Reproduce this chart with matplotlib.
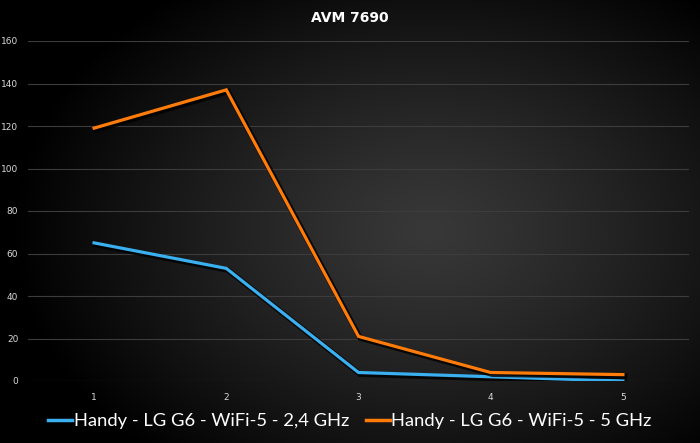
import numpy as np
import matplotlib
matplotlib.use("Agg")
import matplotlib.pyplot as plt
import matplotlib.patheffects as pe

categories = ["1", "2", "3", "4", "5"]
series_24 = [65, 53, 4, 2, 0]
series_5 = [119, 137, 21, 4, 3]
label_24 = "Handy - LG G6 - WiFi-5 - 2,4 GHz"
label_5 = "Handy - LG G6 - WiFi-5 - 5 GHz"
title = "AVM 7690"
yticks = [0, 20, 40, 60, 80, 100, 120, 140, 160]

W, H = 700, 443
fig = plt.figure(figsize=(W / 100, H / 100), dpi=100)

# radial gradient background
bg = fig.add_axes([0, 0, 1, 1], zorder=-10)
yy, xx = np.mgrid[0:H, 0:W]
cx, cy = 430, 230
r = np.sqrt(((xx - cx) / 420.0) ** 2 + ((yy - cy) / 300.0) ** 2)
val = np.clip(0.22 - 0.22 * r ** 1.2, 0.0, 0.22)
img = np.dstack([val, val, val])
bg.imshow(img, extent=[0, 1, 0, 1], aspect="auto", origin="upper")
bg.axis("off")

ax = fig.add_axes([28 / W, 1 - 381 / H, (689 - 28) / W, (381 - 41) / H])
ax.set_facecolor("none")
x = np.arange(1, len(categories) + 1)

shadow = [pe.SimpleLineShadow(offset=(1.2, -1.2), shadow_color="black", alpha=0.8, linewidth=4), pe.Normal()]
ax.plot(x, series_24, color="#3bb0f0", lw=2.3, label=label_24, solid_joinstyle="miter",
        path_effects=shadow, zorder=3)
ax.plot(x, series_5, color="#ff7c0a", lw=2.3, label=label_5, solid_joinstyle="miter",
        path_effects=shadow, zorder=3)

ax.set_xlim(0.5, len(categories) + 0.5)
ax.set_ylim(0, 160)
ax.set_yticks(yticks)
ax.set_xticks(x)
ax.set_xticklabels(categories)
ax.grid(axis="y", color="#3c3c3c", lw=0.8)
ax.set_axisbelow(True)
for s in ax.spines.values():
    s.set_visible(False)
ax.tick_params(length=0, colors="#d9d9d9", labelsize=6.5)
ax.tick_params(axis="y", pad=7)
ax.tick_params(axis="x", pad=9)

fig.text(0.5, 1 - 18 / H, title, ha="center", va="center", color="white",
         fontsize=10, fontweight="bold", family="DejaVu Sans")

leg = fig.legend(loc="center", bbox_to_anchor=(0.5, 1 - 421 / H), ncol=2, frameon=False,
                 prop={"family": "Lato", "size": 13.2}, handlelength=1.3, handletextpad=0.1,
                 columnspacing=0.9)
for t in leg.get_texts():
    t.set_color("white")
for h in leg.get_lines():
    h.set_linewidth(2.5)
    h.set_path_effects([])

fig.savefig("out.png", dpi=100)
